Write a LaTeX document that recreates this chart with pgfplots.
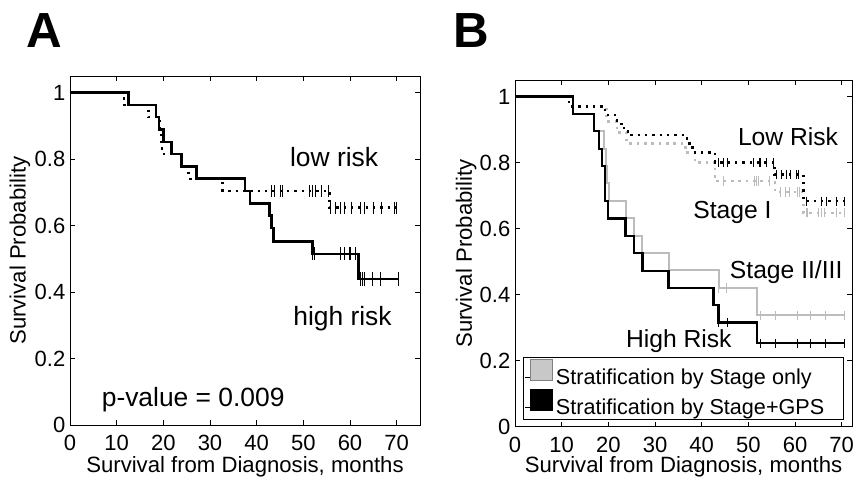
\documentclass[border=0pt]{standalone}
\usepackage{fontspec}
\setmainfont{Liberation Sans}
\usepackage{pgfplots}
\pgfplotsset{compat=1.18}

\definecolor{lgray}{RGB}{188,188,188}
\definecolor{pgray}{RGB}{200,200,200}

\newcommand{\tickfont}{\fontsize{16.5}{18}\selectfont}
\pgfplotsset{
  tick label style={font=\tickfont},
  km/.style={
    scale only axis, anchor=south west,
    xmin=0, ymin=0, ymax=1.05,
    xtick={0,10,20,30,40,50,60,70},
    ytick={0,0.2,0.4,0.6,0.8,1}, yticklabels={0,0.2,0.4,0.6,0.8,1},
    tick align=inside, tick pos=both, major tick length=3.75pt,
    axis line style={line width=0.7pt},
    every tick/.style={black, line width=0.6pt},
    /pgf/number format/assume math mode=true,
    xlabel={Survival from Diagnosis, months},
    ylabel={Survival Probability},
    clip=false,
  },
  solidkm/.style={const plot, line width=1.9pt, black, forget plot},
  dotkm/.style={const plot, line width=1.8pt, dash pattern=on 1.8pt off 3.7pt, forget plot},
  cens/.style={only marks, mark=|, mark size=4.5pt, mark options={line width=0.7pt}, forget plot},
}

\begin{document}
\begin{tikzpicture}
\path[use as bounding box] (0,0) rectangle (640.5pt,-358.5pt);
\node[anchor=base west, inner sep=0, font=\fontsize{37}{40}\selectfont\bfseries] at (19.5pt,-36pt) {A};
\node[anchor=base west, inner sep=0, font=\fontsize{37}{40}\selectfont\bfseries] at (340pt,-36pt) {B};

% ---------- panel A ----------
\begin{axis}[km, at={(52.5pt,-318.75pt)}, width=262.5pt, height=261.75pt, xmax=75,
  xticklabel style={font=\tickfont, anchor=center, yshift=-13.3pt},
  yticklabel style={font=\tickfont},
  xlabel style={at={(axis description cs:0.5,-0.120)}, anchor=center, font=\fontsize{16.6}{18}\selectfont},
  ylabel style={at={(axis description cs:-0.143,0.5)}, anchor=center, font=\fontsize{16.6}{18}\selectfont},
]
% high risk
\addplot[solidkm] coordinates {
 (0,1) (12.5,0.963) (18.4,0.926) (19.1,0.889) (20.0,0.852) (21.8,0.815)
 (23.9,0.778) (27.1,0.741) (37.5,0.704) (38.6,0.667) (42.7,0.630)
 (43.2,0.593) (43.6,0.552) (52.0,0.515) (61.8,0.439) (70.4,0.439)
};
\addplot[cens, mark size=5pt, mark options={line width=0.8pt}] coordinates {
 (42.9,0.630) (52.0,0.515) (52.4,0.515) (57.9,0.515) (58.9,0.515) (60.0,0.515) (61.1,0.515)
 (62.3,0.439) (62.7,0.439) (63.2,0.439) (64.9,0.439) (66.6,0.439) (70.4,0.439)
};
% low risk
\addplot[dotkm, black] coordinates {
 (0,1) (11.6,0.963) (16.8,0.926) (19.3,0.889) (19.5,0.852) (19.7,0.815)
 (23.9,0.778) (25.4,0.741) (32.7,0.704) (55.6,0.654) (70.0,0.654)
};
\addplot[cens, mark size=4.5pt] coordinates {
 (43.1,0.704) (43.9,0.704) (45.0,0.704) (45.6,0.704) (51.3,0.704) (51.9,0.704)
 (52.5,0.704) (53.9,0.704) (55.3,0.704)
 (55.9,0.654) (56.8,0.654) (57.9,0.654) (58.9,0.654) (60.4,0.654) (62.3,0.654)
 (63.0,0.654) (65.0,0.654) (66.8,0.654) (69.6,0.654) (70.0,0.654)
};
\node[font=\fontsize{19.8}{22}\selectfont] at (axis cs:56.6,0.807) {low risk};
\node[font=\fontsize{19.8}{22}\selectfont] at (axis cs:58.4,0.321) {high risk};
\node[font=\fontsize{19.8}{22}\selectfont] at (axis cs:26.4,0.076) {p-value = 0.009};
\end{axis}

% ---------- panel B ----------
\begin{axis}[km, at={(386.25pt,-320.1pt)}, width=252.75pt, height=260.1pt, xmax=72.2,
  xticklabel style={font=\tickfont, anchor=center, yshift=-13.3pt},
  yticklabel style={font=\tickfont},
  xlabel style={at={(axis description cs:0.5,-0.116)}, anchor=center, font=\fontsize{16.6}{18}\selectfont},
  ylabel style={at={(axis description cs:-0.145,0.5)}, anchor=center, font=\fontsize{16.6}{18}\selectfont},
  legend style={at={(axis description cs:0.024,0.02)}, anchor=south west,
    draw=black, line width=0.75pt, font=\fontsize{16.2}{17}\selectfont,
    inner sep=1pt, row sep=0.5pt, legend cell align=left,
    nodes={inner sep=1.5pt}},
]
\addlegendimage{legend image code/.code={\path (0pt,0pt) -- (21pt,0pt);
  \draw[draw=gray, fill=pgray, line width=0.8pt] (4pt,-2.5pt) rectangle (20.5pt,13.5pt);}}
\addlegendentry{Stratification by Stage only}
\addlegendimage{legend image code/.code={\path (0pt,0pt) -- (21pt,0pt);
  \draw[draw=black, fill=black, line width=0.8pt] (4pt,-2.5pt) rectangle (20.5pt,13.5pt);}}
\addlegendentry{Stratification by Stage+GPS\hspace*{12pt}}
% Stage only (gray)
\addplot[solidkm, lgray, line width=1.5pt] coordinates {
 (0,1) (12.5,0.947) (17.0,0.895) (19.1,0.842) (19.4,0.789) (19.7,0.737)
 (20.1,0.684) (23.7,0.631) (25.5,0.577) (27.3,0.527) (32.9,0.474)
 (43.6,0.420) (51.9,0.337) (70.5,0.337)
};
\addplot[dotkm, lgray] coordinates {
 (0,1) (11.6,0.970) (19.6,0.924) (21.8,0.891) (23.9,0.858) (36.5,0.830)
 (38.5,0.800) (42.8,0.744) (55.7,0.711) (61.8,0.648) (70.5,0.648)
};
\addplot[cens, lgray, mark size=3.5pt] coordinates {
 (43.6,0.420) (45.4,0.420)
 (52.6,0.337) (55.7,0.337) (60.6,0.337) (63.4,0.337) (66.5,0.337) (70.5,0.337)
 (44.6,0.744) (51.4,0.744) (51.8,0.744) (52.1,0.744) (54.6,0.744)
 (56.8,0.711) (57.9,0.711) (58.9,0.711) (60.6,0.711) (61.0,0.711)
 (62.4,0.648) (62.6,0.648) (65.0,0.648) (65.7,0.648) (66.4,0.648) (68.9,0.648) (70.5,0.648)
};
% Stage+GPS (black)
\addplot[solidkm, line width=1.7pt] coordinates {
 (0,1) (12.5,0.946) (17.0,0.896) (18.0,0.840) (18.6,0.789) (19.3,0.683)
 (20.0,0.631) (23.7,0.577) (25.5,0.527) (27.3,0.471) (32.9,0.420)
 (42.5,0.368) (43.6,0.316) (51.9,0.253) (70.5,0.253)
};
\addplot[dotkm, black] coordinates {
 (0,1) (11.6,0.970) (19.3,0.944) (21.8,0.917) (22.8,0.905) (24.2,0.883)
 (36.8,0.858) (38.0,0.830) (42.9,0.800) (55.6,0.764) (61.8,0.683) (70.5,0.683)
};
\addplot[cens, black, mark size=3.5pt] coordinates {
 (43.6,0.316) (45.6,0.316)
 (52.6,0.253) (55.7,0.253) (60.6,0.253) (63.4,0.253) (66.5,0.253) (70.5,0.253)
 (43.6,0.800) (44.6,0.800) (45.5,0.800) (51.1,0.800) (52.3,0.800) (52.6,0.800)
 (53.9,0.800) (55.4,0.800)
 (56.1,0.764) (57.1,0.764) (58.1,0.764) (59.1,0.764) (60.4,0.764) (60.7,0.764)
 (62.5,0.683) (65.7,0.683) (66.8,0.683) (68.9,0.683) (70.5,0.683)
};
\node[font=\fontsize{18.5}{20}\selectfont] at (axis cs:58.5,0.879) {Low Risk};
\node[font=\fontsize{18.5}{20}\selectfont] at (axis cs:46.6,0.649) {Stage I};
\node[font=\fontsize{18.5}{20}\selectfont] at (axis cs:58.1,0.469) {Stage II/III};
\node[font=\fontsize{18.5}{20}\selectfont] at (axis cs:35.1,0.258) {High Risk};
\end{axis}
\end{tikzpicture}
\end{document}
